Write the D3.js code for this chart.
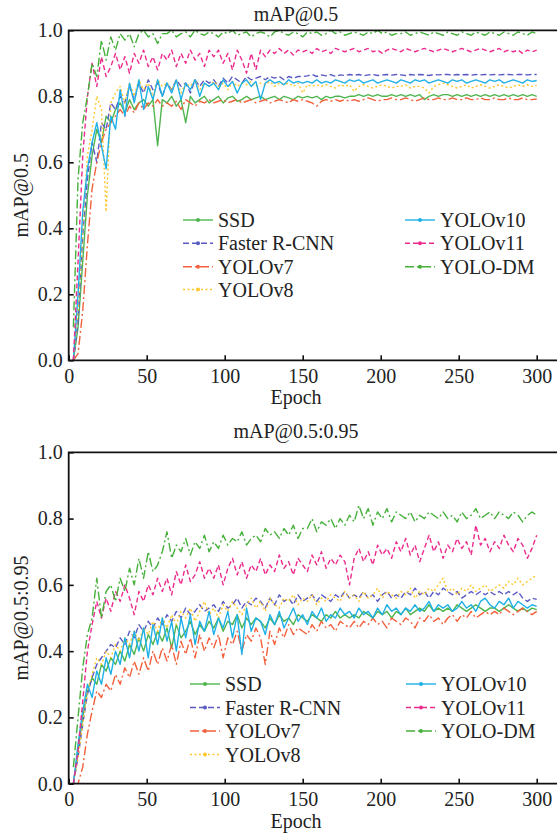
<!DOCTYPE html>
<html>
<head>
<meta charset="utf-8">
<script src="https://cdn.jsdelivr.net/npm/d3@7"></script>
<style>
body { margin: 0; background: #fff; }
svg { display: block; }
</style>
</head>
<body>
<svg id="chart" width="557" height="838" font-family="'Liberation Serif', 'Times New Roman', 'DejaVu Serif', serif"></svg>
<script>
var SERIES = ["SSD", "Faster R-CNN", "YOLOv7", "YOLOv8", "YOLOv10", "YOLOv11", "YOLO-DM"];
var EPOCHS = d3.range(3, 301, 3);
var X_TICKS = [0, 50, 100, 150, 200, 250, 300];
var Y_TICKS = [0, 0.2, 0.4, 0.6, 0.8, 1.0];

// mAP@0.5, one value every 3 epochs (3..300)
var MAP50_SSD = [0.00,0.10,0.30,0.50,0.62,0.70,0.66,0.74,0.72,0.76,
  0.78,0.75,0.79,0.76,0.78,0.79,0.77,0.79,0.65,0.79,
  0.78,0.80,0.77,0.79,0.72,0.80,0.78,0.79,0.80,0.78,
  0.79,0.80,0.78,0.795,0.80,0.785,0.79,0.80,0.79,0.795,
  0.80,0.79,0.795,0.80,0.79,0.80,0.795,0.79,0.80,0.795,
  0.80,0.795,0.80,0.79,0.80,0.795,0.80,0.80,0.795,0.80,
  0.80,0.805,0.80,0.805,0.80,0.805,0.80,0.80,0.805,0.80,
  0.805,0.80,0.805,0.80,0.805,0.79,0.80,0.805,0.80,0.805,
  0.805,0.80,0.805,0.80,0.805,0.80,0.805,0.80,0.805,0.80,
  0.805,0.80,0.805,0.80,0.805,0.80,0.805,0.80,0.805,0.80];
var MAP50_FRCNN = [0.00,0.12,0.38,0.55,0.66,0.60,0.72,0.70,0.78,0.76,
  0.80,0.78,0.83,0.79,0.84,0.81,0.85,0.82,0.84,0.80,
  0.84,0.82,0.85,0.83,0.84,0.81,0.85,0.83,0.85,0.84,
  0.85,0.83,0.855,0.84,0.86,0.85,0.84,0.86,0.85,0.855,
  0.86,0.85,0.86,0.855,0.86,0.85,0.86,0.855,0.86,0.86,
  0.862,0.866,0.86,0.865,0.862,0.866,0.86,0.865,0.863,0.866,
  0.864,0.866,0.862,0.865,0.866,0.863,0.865,0.866,0.864,0.866,
  0.865,0.863,0.866,0.864,0.866,0.865,0.863,0.866,0.865,0.866,
  0.866,0.864,0.866,0.865,0.866,0.864,0.866,0.865,0.866,0.865,
  0.866,0.865,0.866,0.866,0.865,0.866,0.866,0.865,0.866,0.866];
var MAP50_V7 = [0.00,0.02,0.15,0.35,0.52,0.60,0.66,0.70,0.72,0.74,
  0.76,0.74,0.77,0.75,0.78,0.76,0.78,0.77,0.79,0.77,
  0.78,0.77,0.785,0.76,0.79,0.78,0.77,0.785,0.78,0.79,
  0.78,0.785,0.79,0.78,0.785,0.79,0.78,0.785,0.79,0.78,
  0.785,0.79,0.78,0.785,0.79,0.785,0.78,0.79,0.785,0.79,
  0.785,0.78,0.77,0.785,0.79,0.785,0.79,0.785,0.79,0.785,
  0.79,0.785,0.79,0.795,0.79,0.785,0.79,0.79,0.795,0.79,
  0.79,0.795,0.79,0.785,0.79,0.795,0.79,0.79,0.795,0.79,
  0.79,0.795,0.79,0.79,0.795,0.79,0.79,0.795,0.79,0.79,
  0.795,0.79,0.79,0.795,0.79,0.79,0.795,0.79,0.79,0.792];
var MAP50_V8 = [0.00,0.15,0.40,0.62,0.70,0.80,0.76,0.45,0.78,0.81,
  0.83,0.78,0.84,0.80,0.85,0.82,0.84,0.80,0.85,0.83,
  0.84,0.82,0.85,0.81,0.84,0.83,0.85,0.82,0.84,0.83,
  0.845,0.83,0.84,0.82,0.845,0.83,0.84,0.835,0.845,0.83,
  0.84,0.835,0.845,0.83,0.84,0.835,0.84,0.83,0.84,0.81,
  0.835,0.83,0.835,0.83,0.835,0.83,0.825,0.835,0.83,0.835,
  0.815,0.83,0.835,0.83,0.825,0.83,0.835,0.83,0.825,0.83,
  0.83,0.835,0.825,0.83,0.83,0.825,0.81,0.83,0.835,0.84,
  0.835,0.83,0.825,0.83,0.835,0.825,0.83,0.835,0.83,0.825,
  0.83,0.835,0.83,0.825,0.83,0.835,0.83,0.835,0.83,0.833];
var MAP50_V10 = [0.00,0.20,0.45,0.58,0.66,0.72,0.65,0.58,0.74,0.70,
  0.82,0.74,0.84,0.78,0.85,0.76,0.83,0.79,0.85,0.80,
  0.84,0.81,0.85,0.79,0.84,0.82,0.85,0.80,0.84,0.83,
  0.84,0.82,0.85,0.83,0.845,0.81,0.84,0.85,0.83,0.845,
  0.79,0.84,0.85,0.84,0.845,0.835,0.85,0.84,0.845,0.84,
  0.845,0.84,0.85,0.84,0.845,0.84,0.85,0.845,0.84,0.85,
  0.845,0.85,0.84,0.845,0.85,0.84,0.845,0.85,0.845,0.84,
  0.85,0.845,0.84,0.85,0.845,0.85,0.84,0.845,0.85,0.845,
  0.84,0.85,0.845,0.85,0.84,0.845,0.85,0.845,0.84,0.85,
  0.845,0.85,0.84,0.845,0.85,0.845,0.84,0.85,0.845,0.848];
var MAP50_V11 = [0.00,0.30,0.62,0.80,0.90,0.83,0.92,0.86,0.89,0.93,
  0.88,0.92,0.87,0.93,0.90,0.94,0.89,0.92,0.88,0.93,
  0.91,0.94,0.89,0.93,0.90,0.94,0.91,0.93,0.89,0.94,
  0.92,0.94,0.90,0.93,0.88,0.94,0.91,0.87,0.93,0.88,
  0.94,0.92,0.94,0.93,0.945,0.93,0.94,0.925,0.94,0.935,
  0.94,0.93,0.945,0.935,0.94,0.93,0.945,0.94,0.935,0.94,
  0.945,0.935,0.94,0.945,0.935,0.94,0.93,0.94,0.945,0.94,
  0.935,0.945,0.94,0.935,0.94,0.945,0.94,0.935,0.94,0.945,
  0.94,0.935,0.94,0.945,0.94,0.935,0.94,0.945,0.94,0.935,
  0.94,0.945,0.935,0.94,0.935,0.94,0.93,0.94,0.935,0.94];
var MAP50_DM = [0.10,0.55,0.72,0.80,0.90,0.86,0.97,0.91,0.98,0.94,
  0.99,0.97,0.99,0.95,0.99,1.00,0.98,0.99,0.96,0.99,
  0.99,1.00,0.98,0.99,0.995,0.98,1.00,0.99,0.985,0.995,
  0.99,0.98,0.995,0.99,1.00,0.985,0.99,0.995,0.98,0.99,
  0.995,0.99,0.98,0.995,1.00,0.99,0.985,0.995,0.99,0.98,
  0.995,0.99,0.995,0.985,0.99,1.00,0.99,0.995,0.985,0.99,
  0.995,0.99,0.985,0.995,0.99,1.00,0.99,0.995,0.985,0.99,
  0.99,0.995,0.985,0.99,0.995,0.99,0.985,0.995,0.99,0.985,
  0.995,0.99,0.985,0.995,0.99,0.985,0.995,0.99,0.985,0.995,
  0.99,0.985,0.995,0.99,0.985,0.995,0.99,0.985,0.995,0.99];

// mAP@0.5:0.95, same epochs
var MAP95_SSD = [0.00,0.10,0.20,0.28,0.32,0.30,0.36,0.34,0.38,0.36,
  0.40,0.37,0.42,0.39,0.44,0.40,0.45,0.42,0.46,0.43,
  0.47,0.41,0.48,0.44,0.46,0.49,0.45,0.48,0.46,0.49,
  0.47,0.50,0.46,0.49,0.48,0.51,0.47,0.50,0.48,0.50,
  0.49,0.47,0.50,0.48,0.51,0.49,0.50,0.48,0.51,0.50,
  0.49,0.51,0.50,0.49,0.51,0.50,0.52,0.50,0.51,0.50,
  0.51,0.50,0.52,0.51,0.50,0.52,0.51,0.52,0.50,0.52,
  0.51,0.53,0.51,0.52,0.53,0.52,0.54,0.52,0.53,0.52,
  0.53,0.52,0.54,0.53,0.52,0.53,0.54,0.53,0.52,0.53,
  0.53,0.52,0.53,0.54,0.53,0.52,0.53,0.52,0.53,0.525];
var MAP95_FRCNN = [0.00,0.08,0.18,0.27,0.32,0.36,0.38,0.40,0.42,0.41,
  0.44,0.42,0.46,0.44,0.48,0.46,0.49,0.47,0.50,0.48,
  0.51,0.49,0.52,0.50,0.53,0.51,0.52,0.54,0.52,0.53,
  0.54,0.52,0.55,0.53,0.54,0.56,0.53,0.55,0.54,0.56,
  0.55,0.53,0.56,0.54,0.57,0.55,0.56,0.54,0.57,0.55,
  0.56,0.57,0.55,0.57,0.56,0.55,0.57,0.56,0.58,0.56,
  0.57,0.56,0.58,0.56,0.57,0.55,0.57,0.58,0.56,0.57,
  0.56,0.58,0.57,0.59,0.57,0.58,0.56,0.58,0.57,0.59,
  0.58,0.57,0.58,0.56,0.57,0.58,0.57,0.58,0.57,0.58,
  0.57,0.58,0.57,0.58,0.57,0.58,0.56,0.55,0.56,0.556];
var MAP95_V7 = [0.00,0.00,0.05,0.15,0.22,0.28,0.26,0.30,0.28,0.33,
  0.30,0.35,0.32,0.37,0.33,0.38,0.34,0.40,0.36,0.41,
  0.37,0.42,0.36,0.43,0.39,0.44,0.38,0.45,0.40,0.44,
  0.41,0.45,0.38,0.44,0.42,0.46,0.40,0.45,0.43,0.47,
  0.44,0.36,0.46,0.42,0.47,0.44,0.48,0.45,0.47,0.46,
  0.45,0.48,0.46,0.49,0.47,0.48,0.46,0.49,0.48,0.47,
  0.49,0.47,0.49,0.48,0.50,0.48,0.49,0.47,0.50,0.49,
  0.48,0.50,0.49,0.47,0.50,0.49,0.51,0.49,0.50,0.48,
  0.50,0.51,0.49,0.51,0.50,0.52,0.50,0.51,0.52,0.51,
  0.52,0.51,0.53,0.52,0.51,0.52,0.53,0.52,0.51,0.52];
var MAP95_V8 = [0.00,0.08,0.18,0.28,0.33,0.38,0.36,0.40,0.38,0.42,
  0.40,0.44,0.42,0.46,0.43,0.47,0.45,0.49,0.46,0.50,
  0.47,0.51,0.48,0.52,0.50,0.53,0.49,0.52,0.55,0.51,
  0.53,0.50,0.54,0.52,0.55,0.53,0.51,0.54,0.56,0.53,
  0.55,0.52,0.56,0.54,0.53,0.56,0.55,0.57,0.54,0.56,
  0.55,0.57,0.54,0.56,0.55,0.57,0.56,0.55,0.58,0.56,
  0.57,0.55,0.58,0.56,0.57,0.59,0.56,0.58,0.57,0.56,
  0.58,0.57,0.59,0.56,0.58,0.57,0.59,0.58,0.60,0.62,
  0.58,0.59,0.57,0.59,0.58,0.60,0.58,0.59,0.60,0.58,
  0.59,0.60,0.59,0.61,0.60,0.62,0.60,0.61,0.62,0.63];
var MAP95_V10 = [0.00,0.12,0.22,0.30,0.26,0.34,0.30,0.38,0.33,0.40,
  0.36,0.44,0.38,0.46,0.40,0.47,0.38,0.48,0.42,0.50,
  0.43,0.49,0.40,0.50,0.44,0.51,0.42,0.49,0.46,0.52,
  0.45,0.50,0.47,0.52,0.44,0.51,0.39,0.53,0.46,0.50,
  0.49,0.45,0.51,0.48,0.52,0.47,0.50,0.53,0.49,0.51,
  0.48,0.52,0.50,0.53,0.49,0.51,0.50,0.53,0.51,0.52,
  0.50,0.53,0.51,0.52,0.50,0.53,0.51,0.54,0.52,0.53,
  0.51,0.53,0.52,0.54,0.52,0.53,0.55,0.52,0.54,0.53,
  0.54,0.52,0.53,0.55,0.53,0.54,0.52,0.55,0.56,0.54,
  0.53,0.55,0.54,0.56,0.53,0.55,0.54,0.53,0.54,0.535];
var MAP95_V11 = [0.00,0.10,0.25,0.40,0.48,0.55,0.50,0.56,0.52,0.58,
  0.55,0.60,0.56,0.51,0.58,0.55,0.60,0.57,0.62,0.58,
  0.62,0.57,0.64,0.60,0.66,0.61,0.63,0.67,0.62,0.65,
  0.62,0.66,0.60,0.65,0.68,0.63,0.67,0.62,0.66,0.64,
  0.68,0.63,0.66,0.64,0.69,0.65,0.67,0.63,0.68,0.66,
  0.64,0.69,0.66,0.70,0.65,0.68,0.66,0.69,0.67,0.60,
  0.68,0.71,0.67,0.70,0.66,0.72,0.69,0.71,0.68,0.73,
  0.70,0.74,0.69,0.72,0.67,0.71,0.75,0.70,0.73,0.68,
  0.72,0.70,0.74,0.71,0.73,0.69,0.78,0.72,0.74,0.70,
  0.73,0.71,0.75,0.72,0.70,0.74,0.72,0.68,0.71,0.75];
var MAP95_DM = [0.05,0.20,0.35,0.45,0.50,0.62,0.50,0.58,0.60,0.55,
  0.62,0.58,0.65,0.60,0.68,0.62,0.70,0.64,0.66,0.70,
  0.76,0.68,0.72,0.70,0.74,0.69,0.73,0.71,0.75,0.70,
  0.73,0.71,0.75,0.72,0.74,0.73,0.76,0.72,0.74,0.75,
  0.73,0.77,0.75,0.76,0.74,0.77,0.75,0.78,0.74,0.77,
  0.77,0.80,0.76,0.79,0.78,0.80,0.77,0.80,0.78,0.81,
  0.79,0.84,0.80,0.83,0.78,0.82,0.80,0.83,0.79,0.82,
  0.81,0.80,0.82,0.79,0.81,0.80,0.82,0.81,0.80,0.82,
  0.80,0.81,0.79,0.82,0.80,0.81,0.83,0.80,0.81,0.82,
  0.80,0.82,0.81,0.80,0.82,0.81,0.79,0.81,0.82,0.81];

var COLORS = ["#4fb54f", "#5a5ac4", "#f2603c", "#ffc72c", "#1fb0e6", "#ec2b8c", "#45b03a"];
var DASHES = [null, "6,3", "9,3,2,3", "2,2.5", null, "5,3", "9,3,2,3"];
var FONT = "'Liberation Serif', 'Times New Roman', 'DejaVu Serif', serif";

var svg = d3.select("#chart");

var X_LEFT = 68.7;
var X_RIGHT = 536.7;
var FRAME_RIGHT = 562;

var PANELS = [
    {
        id: "p1", title: "mAP@0.5", ylabel: "mAP@0.5",
        top: 30.3, bottom: 360.3, titleY: 21,
        data: [MAP50_SSD, MAP50_FRCNN, MAP50_V7, MAP50_V8, MAP50_V10, MAP50_V11, MAP50_DM],
        legend: {x: [183, 405], y: [220, 243.3, 266.7, 289.5]}
    },
    {
        id: "p2", title: "mAP@0.5:0.95", ylabel: "mAP@0.5:0.95",
        top: 452.3, bottom: 783.7, titleY: 438,
        data: [MAP95_SSD, MAP95_FRCNN, MAP95_V7, MAP95_V8, MAP95_V10, MAP95_V11, MAP95_DM],
        legend: {x: [190, 406], y: [684, 707.5, 731, 754.5]}
    }
];

function addText(g, x, y, s) {
    return g.append("text")
        .attr("x", x).attr("y", y)
        .attr("font-family", FONT)
        .attr("font-size", 20)
        .attr("fill", "#222")
        .text(s);
}

function drawPanel(p) {
    var g = svg.append("g");
    var x = d3.scaleLinear().domain([0, 300]).range([X_LEFT, X_RIGHT]);
    var y = d3.scaleLinear().domain([0, 1]).range([p.bottom, p.top]);

    // clip lines to plot box
    svg.append("clipPath").attr("id", "clip_" + p.id)
        .append("rect")
        .attr("x", X_LEFT).attr("y", p.top)
        .attr("width", FRAME_RIGHT - X_LEFT).attr("height", p.bottom - p.top);

    var line = d3.line()
        .x(function(d, i) { return x(EPOCHS[i]); })
        .y(function(d) { return y(d); });

    p.data.forEach(function(vals, k) {
        g.append("path")
            .datum(vals)
            .attr("d", line)
            .attr("fill", "none")
            .attr("stroke", COLORS[k])
            .attr("stroke-width", 1.4)
            .attr("stroke-dasharray", DASHES[k])
            .attr("stroke-linejoin", "round")
            .attr("clip-path", "url(#clip_" + p.id + ")");
    });

    // x axis, ticks pointing inward
    var xa = g.append("g")
        .attr("transform", "translate(0," + p.bottom + ")")
        .call(d3.axisBottom(x).tickValues(X_TICKS).tickSize(-5).tickSizeOuter(0).tickPadding(8.5));
    xa.select(".domain").remove();

    var ya = g.append("g")
        .attr("transform", "translate(" + X_LEFT + ",0)")
        .call(d3.axisLeft(y).tickValues(Y_TICKS).tickSize(-5).tickSizeOuter(0).tickPadding(6)
            .tickFormat(d3.format(".1f")));
    ya.select(".domain").remove();

    [xa, ya].forEach(function(a) {
        a.attr("font-family", FONT).attr("font-size", 20);
        a.selectAll(".tick line").attr("stroke", "#111").attr("stroke-width", 1.6);
        a.selectAll(".tick text").attr("fill", "#222").attr("font-family", FONT);
    });

    // frame: top, left, bottom (right edge falls outside the picture)
    g.append("path")
        .attr("d", "M" + FRAME_RIGHT + "," + p.top + "H" + X_LEFT + "V" + p.bottom + "H" + FRAME_RIGHT)
        .attr("fill", "none")
        .attr("stroke", "#111")
        .attr("stroke-width", 1.8);

    addText(g, 296, p.titleY, p.title).attr("text-anchor", "middle");
    addText(g, 296, p.bottom + 44, "Epoch").attr("text-anchor", "middle");
    addText(g, 0, 0, p.ylabel)
        .attr("transform", "translate(28," + ((p.top + p.bottom) / 2) + ") rotate(-90)")
        .attr("text-anchor", "middle");

    // legend, two columns
    SERIES.forEach(function(name, k) {
        var col = k < 4 ? 0 : 1;
        var row = k < 4 ? k : k - 4;
        var lx = p.legend.x[col];
        var ly = p.legend.y[row];
        g.append("line")
            .attr("x1", lx).attr("x2", lx + 30)
            .attr("y1", ly).attr("y2", ly)
            .attr("stroke", COLORS[k])
            .attr("stroke-width", 1.4)
            .attr("stroke-dasharray", DASHES[k]);
        g.append("circle")
            .attr("cx", lx + 15).attr("cy", ly).attr("r", 2)
            .attr("fill", COLORS[k]);
        addText(g, lx + 35, ly, name).attr("dy", "0.35em");
    });
}

PANELS.forEach(drawPanel);
</script>
</body>
</html>
